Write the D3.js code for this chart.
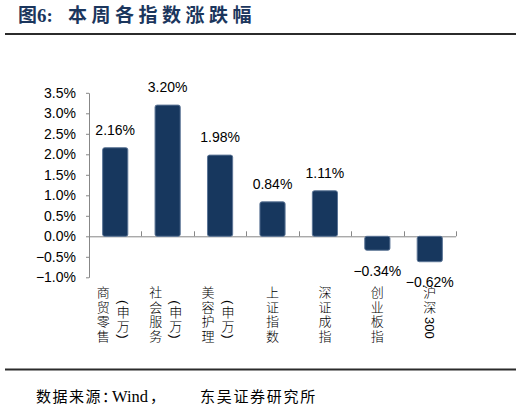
<!DOCTYPE html>
<html>
<head>
<meta charset="utf-8">
<script src="https://cdn.jsdelivr.net/npm/d3@7"></script>
<style>
  body { margin: 0; background: #fff; }
</style>
</head>
<body>
<div id="chart"></div>
<script>
var categories = ['商贸零售（申万）', '社会服务（申万）', '美容护理（申万）', '上证指数', '深证成指', '创业板指', '沪深300'];
var changes = [2.16, 3.20, 1.98, 0.84, 1.11, -0.34, -0.62];
var yTicks = [-1.0, -0.5, 0.0, 0.5, 1.0, 1.5, 2.0, 2.5, 3.0, 3.5];
var titleHead = '图6:';
var titleText = '本周各指数涨跌幅';
var sourceText = ['数据来源', '：', 'Wind', '，', '东吴证券研究所'];

var cjk = '"Noto Sans CJK SC", sans-serif';
var latin = '"Liberation Sans", Arial, sans-serif';
var serif = '"Liberation Serif", serif';

var margin = { top: 92.8, left: 89 };
var width = 367;
var height = 184.5;

var svg = d3.select('#chart').append('svg')
    .attr('width', 521)
    .attr('height', 417);

// title
var title = svg.append('text')
    .attr('y', 22)
    .style('fill', '#1b365d')
    .style('font-weight', 'bold')
    .style('font-size', '19px');
title.append('tspan')
    .attr('x', 18)
    .style('font-family', cjk)
    .text(titleHead.charAt(0));
title.append('tspan')
    .style('font-family', serif)
    .text(titleHead.slice(1));
title.append('tspan')
    .attr('x', 68)
    .style('font-family', cjk)
    .style('letter-spacing', '4.5px')
    .text(titleText);

// rules
[34, 369.5].forEach(function (ry) {
  svg.append('line')
      .attr('x1', 5).attr('x2', 516)
      .attr('y1', ry).attr('y2', ry)
      .style('stroke', '#2b2b2b')
      .style('stroke-width', 2);
});

// source
var source = svg.append('text')
    .attr('y', 402)
    .style('font-size', '15px')
    .style('fill', '#000');
source.append('tspan').attr('x', 36).style('font-family', cjk).style('letter-spacing', '1.5px').text(sourceText[0]);
source.append('tspan').style('font-family', cjk).style('letter-spacing', '-6px').text(sourceText[1]);
source.append('tspan').attr('x', 112).style('font-family', serif).style('font-size', '16.5px').text(sourceText[2]);
source.append('tspan').attr('x', 150).style('font-family', cjk).text(sourceText[3]);
source.append('tspan').attr('x', 200).style('font-family', cjk).style('letter-spacing', '1.7px').text(sourceText[4]);

var x = d3.scaleBand()
    .domain(categories)
    .range([0, width])
    .paddingInner(0.52)
    .paddingOuter(0.26);

var y = d3.scaleLinear()
    .domain([-1, 3.5])
    .range([height, 0]);

var chart = svg.append('g')
    .attr('transform', 'translate(' + margin.left + ',' + margin.top + ')');

var pct = function (digits) {
  return function (d) {
    return (d < 0 ? '\u2212' : '') + Math.abs(d).toFixed(digits) + '%';
  };
};

// y axis
var yAxis = chart.append('g')
    .call(d3.axisLeft(y)
      .tickValues(yTicks)
      .tickSize(3)
      .tickSizeOuter(0)
      .tickPadding(10)
      .tickFormat(pct(1)));
yAxis.select('path').style('stroke', '#878787');
yAxis.selectAll('g line').style('stroke', '#878787');
yAxis.selectAll('g text')
    .style('fill', '#000')
    .style('font-family', latin)
    .style('font-size', '14px');

// zero line with category boundary ticks
chart.append('line')
    .attr('x1', 0).attr('x2', width)
    .attr('y1', y(0) + 0.5).attr('y2', y(0) + 0.5)
    .style('stroke', '#878787');

var edge = function (c) {
  return Math.round(x(c) + x.bandwidth() + (x.step() - x.bandwidth()) / 2) + 0.5;
};

chart.append('g').selectAll('line')
    .data(categories)
  .enter().append('line')
    .attr('x1', edge)
    .attr('x2', edge)
    .attr('y1', y(0))
    .attr('y2', y(0) - 5)
    .style('stroke', '#878787');

// bars
chart.append('g').selectAll('rect')
    .data(changes)
  .enter().append('rect')
    .attr('x', function (d, i) { return x(categories[i]); })
    .attr('y', function (d) { return y(Math.max(0, d)); })
    .attr('height', function (d) { return Math.abs(y(d) - y(0)); })
    .attr('width', x.bandwidth())
    .attr('rx', 2)
    .style('fill', '#17375e')
    .style('stroke', '#5c7596')
    .style('stroke-width', 1);

// value labels
chart.append('g').selectAll('text')
    .data(changes)
  .enter().append('text')
    .attr('x', function (d, i) { return x(categories[i]) + x.bandwidth() / 2; })
    .attr('y', function (d) { return d >= 0 ? y(d) - 13 : y(d) + 25.5; })
    .style('text-anchor', 'middle')
    .style('font-family', latin)
    .style('font-size', '14px')
    .style('fill', '#000')
    .text(pct(2));

// vertical category labels: one vertical text per column,
// brackets drawn on their side above and below the second column
var columnsOf = function (name) {
  var k = name.indexOf('（');
  return k < 0 ? [name] : [name.slice(0, k), name.slice(k + 1, name.indexOf('）'))];
};

var labels = chart.append('g');

var bracket = function (ch, bx, by) {
  labels.append('text')
      .attr('x', bx)
      .attr('y', by)
      .attr('dominant-baseline', 'central')
      .attr('transform', 'rotate(90,' + bx + ',' + by + ')')
      .style('text-anchor', 'middle')
      .style('font-family', latin)
      .style('font-size', '13px')
      .style('fill', '#000')
      .text(ch);
};

categories.forEach(function (c) {
  var cols = columnsOf(c);
  var cx = x(c) + x.bandwidth() / 2;
  var offsets = cols.length > 1 ? [-12, 8] : [0];

  cols.forEach(function (col, ci) {
    var colX = cx + offsets[ci];
    var inner = ci > 0;
    var t = labels.append('text')
        .attr('x', colX)
        .attr('y', (inner ? 306 : 286) - margin.top)
        .style('writing-mode', 'vertical-rl')
        .style('font-family', cjk)
        .style('font-weight', 300)
        .style('font-size', '13px')
        .style('fill', '#000');

    col.match(/[0-9A-Za-z]+|./g).forEach(function (tok, k, toks) {
      var span = t.append('tspan').text(tok);
      if (/^[0-9A-Za-z]+$/.test(tok)) {
        span.attr('dy', 2).style('font-family', latin);
      } else if (k < toks.length - 1) {
        span.style('letter-spacing', inner ? '1px' : '1.5px');
      }
    });

    if (inner) {
      bracket('(', colX, 302.3 - margin.top);
      bracket(')', colX, 336.5 - margin.top);
    }
  });
});
</script>
</body>
</html>
